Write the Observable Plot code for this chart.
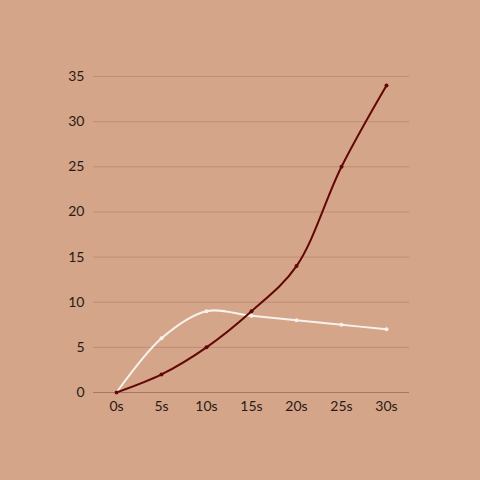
<!DOCTYPE html>
<html>
<head>
<meta charset="utf-8">
<script src="https://cdn.jsdelivr.net/npm/d3@7"></script>
<script src="https://cdn.jsdelivr.net/npm/@observablehq/plot@0.6"></script>
<style>
  html, body { margin: 0; padding: 0; background: #d4a589; }
  #chart { width: 480px; height: 480px; }
</style>
</head>
<body>
<div id="chart"></div>
<script>
const categories = ["0s", "5s", "10s", "15s", "20s", "25s", "30s"];
const darkSeries = [0, 2, 5, 9, 14, 25, 34];
const whiteSeries = [0, 6, 9, 8.5, 8, 7.5, 7];
const yTicks = [0, 5, 10, 15, 20, 25, 30, 35];

const dark = categories.map((c, i) => ({x: c, y: darkSeries[i]}));
const white = categories.map((c, i) => ({x: c, y: whiteSeries[i]}));

const chart = Plot.plot({
  width: 480,
  height: 480,
  marginLeft: 93,
  marginRight: 71,
  marginTop: 76,
  marginBottom: 88,
  style: {background: "#d4a589", fontFamily: "Lato, sans-serif", fontSize: "14px", color: "#2a1a14"},
  x: {type: "point", domain: categories, padding: 0.5, label: null},
  y: {domain: [0, 35], ticks: yTicks, label: null},
  marks: [
    Plot.gridY(yTicks.filter(t => t > 0), {stroke: "#bf8d74", strokeOpacity: 1, strokeWidth: 1}),
    Plot.ruleY([0], {stroke: "#a57a64", strokeWidth: 1}),
    Plot.axisY({ticks: yTicks, tickSize: 0, tickPadding: 9, fill: "#2a1a14", fontSize: 14}),
    Plot.axisX({tickSize: 0, tickPadding: 9, fill: "#2a1a14", fontSize: 14}),
    Plot.line(white, {x: "x", y: "y", stroke: "#f7f2ee", strokeWidth: 2, curve: "catmull-rom"}),
    Plot.dot(white, {x: "x", y: "y", fill: "#f7f2ee", r: 2}),
    Plot.line(dark, {x: "x", y: "y", stroke: "#620606", strokeWidth: 2, curve: "catmull-rom"}),
    Plot.dot(dark, {x: "x", y: "y", fill: "#620606", r: 2})
  ]
});
document.getElementById("chart").appendChild(chart);
</script>
</body>
</html>
